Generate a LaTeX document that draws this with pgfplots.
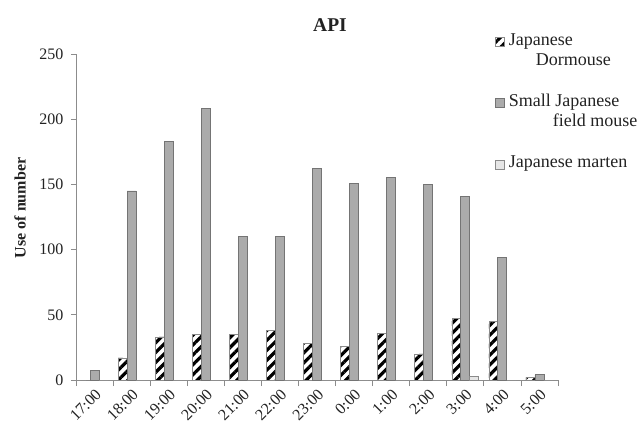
\documentclass[border=0pt]{standalone}
\usepackage{fontspec}
\setmainfont{Liberation Serif}
\usepackage{pgfplots}
\pgfplotsset{compat=1.18}
\usetikzlibrary{patterns.meta}
\definecolor{axgray}{HTML}{8C8C8C}
\definecolor{txt}{HTML}{222222}
\definecolor{fmfill}{HTML}{ABABAB}
\definecolor{fmdraw}{HTML}{747474}
\definecolor{mafill}{HTML}{E6E6E6}
\definecolor{madraw}{HTML}{8A8A8A}
\begin{document}
\fontsize{16}{19}\selectfont
\begin{tikzpicture}
\useasboundingbox (0,0) rectangle (638pt,429pt);
\begin{axis}[
  at={(76pt,49pt)}, anchor=south west,
  scale only axis, width=482pt, height=326pt,
  ymin=0, ymax=250, ytick={0,50,...,250},
  xmin=-0.5, xmax=12.5,
  xtick={0,...,12},
  xticklabels={17:00,18:00,19:00,20:00,21:00,22:00,23:00,0:00,1:00,2:00,3:00,4:00,5:00},
  minor xtick={-0.5,0.5,...,12.5},
  major x tick style={draw=none},
  minor x tick style={draw=axgray, line width=0.8pt},
  minor tick length=6pt,
  ytick style={draw=axgray, line width=0.8pt},
  major tick length=5pt,
  tick align=outside,
  axis x line*=bottom, axis y line*=left,
  axis line style={draw=axgray, line width=0.8pt},
  ybar=0pt, bar width=9pt,
  /pgf/number format/assume math mode=true,
  tick label style={font=\fontsize{16}{19}\selectfont, text=txt},
  x tick label style={rotate=45, anchor=north east, inner sep=2pt},
  yticklabel style={xshift=-2pt},
  title={\textbf{API}},
  title style={at={(axis description cs:0.527,1.071)}, anchor=center, font=\fontsize{19.5}{22}\selectfont, text=txt},
  ylabel={\textbf{Use of number}},
  ylabel style={at={(axis description cs:-0.116,0.528)}, anchor=center, rotate=0, text=txt},
  legend image code/.code={\draw[#1] (0pt,-1pt) rectangle (9pt,8pt);},
  legend style={draw=none, fill=none, at={(axis description cs:0.869,1.0706)}, anchor=north west,
    inner sep=0pt, column sep=4pt, row sep=45pt,
    font=\fontsize{18}{20}\selectfont,
    cells={anchor=base west}, nodes={inner sep=0pt, text=txt}},
]
\addplot[draw=madraw, line width=0.6pt, pattern={Lines[angle=45,distance=7pt,line width=3.2pt]}, pattern color=black]
  coordinates {(0,0) (1,17) (2,33) (3,35) (4,35) (5,38) (6,28) (7,26) (8,36) (9,20) (10,47) (11,45) (12,2)};
\addplot[draw=fmdraw, fill=fmfill, line width=0.8pt]
  coordinates {(0,7) (1,145) (2,183) (3,208) (4,110) (5,110) (6,162) (7,151) (8,155) (9,150) (10,141) (11,94) (12,4)};
\addplot[draw=madraw, fill=mafill, line width=0.8pt]
  coordinates {(0,0) (1,0) (2,0) (3,0) (4,0) (5,0) (6,0) (7,0) (8,0) (9,0) (10,3) (11,0) (12,0)};
\legend{{\begin{tabular}[t]{@{}l@{}}Japanese\\\hspace*{27pt}Dormouse\end{tabular}},
        {\begin{tabular}[t]{@{}l@{}}Small Japanese\\\hspace*{44pt}field mouse\end{tabular}},
        {\begin{tabular}[t]{@{}l@{}}Japanese marten\end{tabular}}}
\end{axis}
\end{tikzpicture}
\end{document}
